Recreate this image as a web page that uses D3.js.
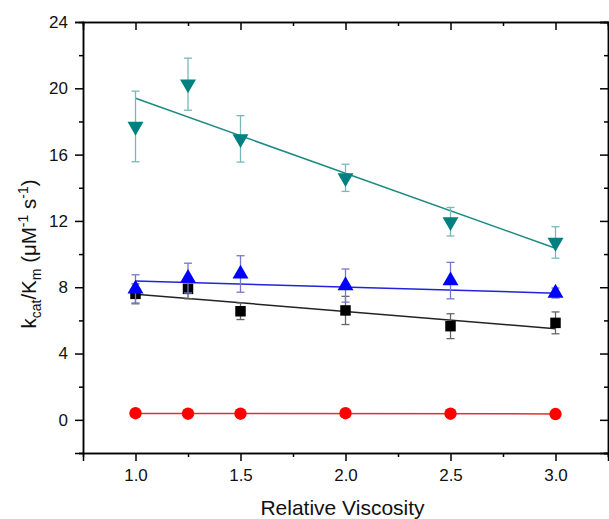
<!DOCTYPE html>
<html>
<head>
<meta charset="utf-8">
<script src="https://cdn.jsdelivr.net/npm/d3@7"></script>
<style>
  body { margin: 0; background: #fff; }
  svg text { font-family: Arial, "Liberation Sans", sans-serif; }
</style>
</head>
<body>
<div id="chart"></div>
<script>
// Data
const viscosity = [1.0, 1.25, 1.5, 2.0, 2.5, 3.0];

const tealVals = [17.7, 20.25, 16.95, 14.6, 11.95, 10.7];
const tealErr  = [2.13, 1.57, 1.4, 0.82, 0.86, 0.95];
const tealFit  = [19.4, 10.35];

const blueVals = [7.9, 8.55, 8.8, 8.1, 8.4, 7.65];
const blueErr  = [0.85, 0.9, 1.1, 1.0, 1.1, 0.3];
const blueFit  = [8.38, 7.64];

const blackVals = [7.6, 7.9, 6.55, 6.6, 5.65, 5.85];
const blackErr  = [0.6, 0.6, 0.5, 0.85, 0.75, 0.66];
const blackFit  = [7.58, 5.5];

const redVals = [0.4, 0.37, 0.37, 0.4, 0.37, 0.35];
const redErr  = [0, 0, 0, 0, 0, 0];
const redFit  = [0.39, 0.36];

const xTicks = [1.0, 1.5, 2.0, 2.5, 3.0];
const xMinor = [1.25, 1.75, 2.25, 2.75, 3.25];
const yTicks = [0, 4, 8, 12, 16, 20, 24];
const yMinor = [-2, 2, 6, 10, 14, 18, 22];

const series = [
  {vals: redVals, err: redErr, fit: redFit, shape: "circle", color: "#ff0000", errColor: "#ff8080", line: "#e03030"},
  {vals: blackVals, err: blackErr, fit: blackFit, shape: "square", color: "#000000", errColor: "#666666", line: "#222222"},
  {vals: blueVals, err: blueErr, fit: blueFit, shape: "up", color: "#0000ff", errColor: "#7777cc", line: "#2222dd"},
  {vals: tealVals, err: tealErr, fit: tealFit, shape: "down", color: "#008080", errColor: "#7ab8b8", line: "#1a8a84"}
];

const W = 609, H = 519;
const margin = {top: 22, right: 1, bottom: 66, left: 83};
const width = W - margin.left - margin.right,
      height = H - margin.top - margin.bottom;

const svg = d3.select("#chart").append("svg")
    .attr("width", W)
    .attr("height", H)
  .append("g")
    .attr("transform", `translate(${margin.left},${margin.top})`);

const x = d3.scaleLinear().domain([0.75, 3.25]).range([0, width]);
const y = d3.scaleLinear().domain([-2, 24]).range([height, 0]);

// Axes
function styleAxis(g) {
  g.attr("font-family", null);
  g.select(".domain").attr("stroke", "#000").attr("stroke-width", 1.5);
  g.selectAll(".tick line").attr("stroke", "#000").attr("stroke-width", 1.5);
  g.selectAll("text").attr("font-size", 17).attr("fill", "#111");
}

svg.append("g")
   .attr("transform", `translate(0,${height})`)
   .call(d3.axisBottom(x).tickValues(xTicks).tickSize(8).tickPadding(8).tickFormat(d3.format(".1f")))
   .call(styleAxis);
svg.append("g")
   .attr("transform", `translate(0,${height})`)
   .call(d3.axisBottom(x).tickValues(xMinor).tickSize(4).tickFormat(""))
   .call(styleAxis);

svg.append("g")
   .call(d3.axisLeft(y).tickValues(yTicks).tickSize(8).tickPadding(7).tickFormat(d3.format("d")))
   .call(styleAxis);
svg.append("g")
   .call(d3.axisLeft(y).tickValues(yMinor).tickSize(4).tickFormat(""))
   .call(styleAxis);

// top and right axes, ticks pointing inward
svg.append("g")
   .call(d3.axisTop(x).tickValues(xTicks).tickSize(-8).tickFormat(""))
   .call(styleAxis);
svg.append("g")
   .call(d3.axisTop(x).tickValues(xMinor).tickSize(-4).tickFormat(""))
   .call(styleAxis);
svg.append("g")
   .attr("transform", `translate(${width},0)`)
   .call(d3.axisRight(y).tickValues(yTicks).tickSize(-8).tickFormat(""))
   .call(styleAxis);
svg.append("g")
   .attr("transform", `translate(${width},0)`)
   .call(d3.axisRight(y).tickValues(yMinor).tickSize(-4).tickFormat(""))
   .call(styleAxis);

// Fit lines
series.forEach(s => {
  svg.append("line")
     .attr("x1", x(viscosity[0])).attr("y1", y(s.fit[0]))
     .attr("x2", x(viscosity[viscosity.length - 1])).attr("y2", y(s.fit[1]))
     .attr("stroke", s.line)
     .attr("stroke-width", 1.5);
});

// Error bars + markers
const symbols = {
  circle: d3.symbol().type(d3.symbolCircle).size(120),
  square: d3.symbol().type(d3.symbolSquare).size(110),
  up: d3.symbol().type(d3.symbolTriangle).size(110)
};

series.forEach(s => {
  const pts = viscosity.map((v, i) => ({x: v, y: s.vals[i], e: s.err[i]}));
  const eb = svg.append("g").attr("stroke", s.errColor).attr("stroke-width", 1.3);
  pts.filter(d => d.e > 0).forEach(d => {
    const cx = x(d.x);
    eb.append("line").attr("x1", cx).attr("x2", cx).attr("y1", y(d.y + d.e)).attr("y2", y(d.y - d.e));
    eb.append("line").attr("x1", cx - 4).attr("x2", cx + 4).attr("y1", y(d.y + d.e)).attr("y2", y(d.y + d.e));
    eb.append("line").attr("x1", cx - 4).attr("x2", cx + 4).attr("y1", y(d.y - d.e)).attr("y2", y(d.y - d.e));
  });

  svg.append("g").selectAll("path")
     .data(pts)
     .enter().append("path")
     .attr("d", s.shape === "down" ? symbols.up() : symbols[s.shape]())
     .attr("transform", d => `translate(${x(d.x)},${y(d.y)})` + (s.shape === "down" ? " rotate(180)" : ""))
     .attr("fill", s.color);
});

// x-axis label
svg.append("text")
   .attr("x", width / 2 - 3)
   .attr("y", height + 62)
   .attr("text-anchor", "middle")
   .attr("font-size", 21)
   .attr("fill", "#111")
   .text("Relative Viscosity");

// y-axis label
const yl = svg.append("text")
   .attr("transform", `translate(${-47},${254 - margin.top}) rotate(-90)`)
   .attr("text-anchor", "middle")
   .attr("font-size", 20.5)
   .attr("fill", "#111");
yl.append("tspan").text("k");
yl.append("tspan").attr("font-size", 14).attr("dy", 5).text("cat");
yl.append("tspan").attr("dy", -5).text("/K");
yl.append("tspan").attr("font-size", 14).attr("dy", 5).text("m");
yl.append("tspan").attr("dy", -5).text(" (\u03BCM");
yl.append("tspan").attr("font-size", 14).attr("dy", -8).text("-1");
yl.append("tspan").attr("dy", 8).text(" s");
yl.append("tspan").attr("font-size", 14).attr("dy", -8).text("-1");
yl.append("tspan").attr("dy", 8).text(")");
</script>
</body>
</html>
